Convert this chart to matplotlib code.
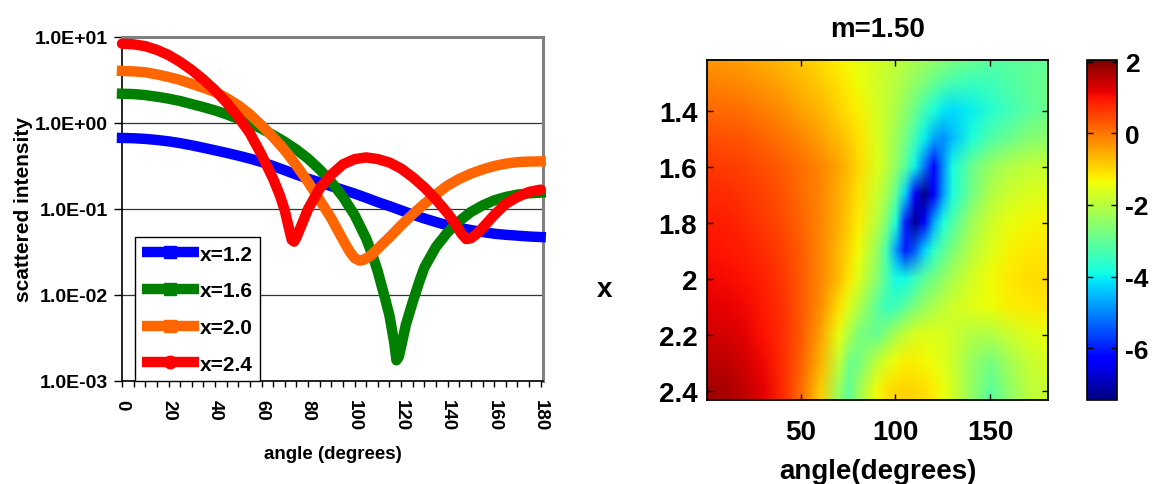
import numpy as np
import matplotlib
matplotlib.use('Agg')
import matplotlib.pyplot as plt
from matplotlib.lines import Line2D
from matplotlib.image import NonUniformImage

plt.rcParams['font.family'] = ['Liberation Sans', 'DejaVu Sans']
plt.rcParams['font.weight'] = 'bold'
plt.rcParams['axes.unicode_minus'] = False

# ---- left panel: scattered intensity vs angle ----
ang_12 = [0, 5, 10, 15, 20, 25, 30, 35, 40, 45, 50, 55, 60, 65, 70, 75, 80, 85, 90, 95,
          100, 105, 110, 115, 120, 125, 130, 135, 140, 145, 150, 155, 160, 165, 170, 175, 180]
int_12 = [0.670, 0.665, 0.653, 0.635, 0.612, 0.583, 0.550, 0.515, 0.481, 0.449, 0.417,
          0.385, 0.352, 0.316, 0.282, 0.251, 0.225, 0.204, 0.184, 0.167, 0.151, 0.135,
          0.120, 0.108, 0.0964, 0.0861, 0.0776, 0.0705, 0.0646, 0.0603, 0.0569, 0.0540,
          0.0516, 0.0501, 0.0490, 0.0479, 0.0472]

ang_16 = [0, 5, 10, 15, 20, 25, 30, 35, 40, 45, 50, 55, 60, 65, 70, 75, 80, 85, 90, 95,
          100, 105, 108, 110, 113, 115, 117, 118, 119, 120, 122, 125, 128, 130, 135, 140,
          145, 150, 155, 160, 165, 170, 175, 180]
int_16 = [2.19, 2.17, 2.11, 2.02, 1.92, 1.80, 1.66, 1.53, 1.40, 1.26, 1.12, 0.989, 0.859,
          0.724, 0.603, 0.490, 0.385, 0.288, 0.206, 0.138, 0.0851, 0.0452, 0.0275, 0.0186,
          0.00933, 0.00575, 0.00282, 0.00174, 0.00191, 0.00251, 0.00447, 0.00832, 0.0148,
          0.0209, 0.0363, 0.0537, 0.0724, 0.0923, 0.110, 0.126, 0.138, 0.147, 0.152, 0.155]

ang_20 = [0, 5, 10, 15, 20, 25, 30, 35, 40, 45, 50, 55, 60, 65, 70, 75, 80, 85, 90, 95,
          98, 100, 102, 104, 107, 110, 115, 120, 125, 130, 135, 140, 145, 150, 155, 160,
          165, 170, 175, 180]
int_20 = [4.03, 3.98, 3.89, 3.67, 3.43, 3.16, 2.85, 2.57, 2.29, 1.95, 1.60, 1.26, 0.940,
          0.684, 0.481, 0.320, 0.206, 0.127, 0.0776, 0.0437, 0.0316, 0.0269, 0.0251,
          0.0257, 0.0288, 0.0347, 0.0468, 0.0646, 0.0871, 0.115, 0.148, 0.188, 0.224,
          0.258, 0.288, 0.316, 0.337, 0.351, 0.356, 0.358]

ang_24 = [0, 5, 10, 15, 20, 25, 30, 35, 40, 45, 50, 55, 60, 65, 68, 70, 72, 73, 74, 75,
          77, 80, 85, 90, 95, 100, 105, 110, 115, 120, 125, 130, 135, 140, 143, 146, 148,
          150, 152, 155, 160, 165, 170, 175, 180]
int_24 = [8.36, 8.22, 7.82, 7.08, 6.17, 5.13, 4.12, 3.20, 2.40, 1.72, 1.175, 0.759, 0.427,
          0.224, 0.141, 0.0955, 0.0562, 0.0437, 0.0417, 0.0468, 0.0631, 0.100, 0.174,
          0.251, 0.331, 0.380, 0.398, 0.380, 0.347, 0.295, 0.234, 0.178, 0.129, 0.0891,
          0.0692, 0.0513, 0.0447, 0.0457, 0.0501, 0.0603, 0.0851, 0.115, 0.138, 0.158, 0.168]

series = [('x=1.2', ang_12, int_12, '#0000FF', 's'),
          ('x=1.6', ang_16, int_16, '#008000', 's'),
          ('x=2.0', ang_20, int_20, '#FF6600', 's'),
          ('x=2.4', ang_24, int_24, '#FF0000', 'o')]

y_ticks = [1e-3, 1e-2, 1e-1, 1e0, 1e1]
y_ticklabels = ['1.0E-03', '1.0E-02', '1.0E-01', '1.0E+00', '1.0E+01']

# ---- right panel: ln(intensity) map, angle vs size parameter x ----
hm_angle = [0, 10, 20, 30, 40, 50, 60, 70, 75, 80, 90, 95, 100, 105, 110, 115, 120, 125,
            130, 140, 150, 160, 170, 180]
hm_x = [1.2, 1.3, 1.4, 1.5, 1.6, 1.7, 1.8, 1.9, 2.0, 2.1, 2.2, 2.3, 2.4]
hm_ln = [
    [-0.40, -0.43, -0.49, -0.60, -0.73, -0.88, -1.04, -1.27, -1.38, -1.49, -1.69, -1.79, -1.89, -2.00, -2.12, -2.23, -2.34, -2.45, -2.56, -2.80, -3.00, -3.05, -3.05, -3.05],
    [-0.12, -0.15, -0.23, -0.35, -0.50, -0.66, -0.85, -1.10, -1.23, -1.37, -1.70, -1.85, -2.02, -2.22, -2.45, -2.70, -2.95, -3.15, -3.30, -3.45, -3.40, -3.20, -3.00, -2.90],
    [0.15, 0.12, 0.05, -0.07, -0.24, -0.44, -0.65, -0.92, -1.07, -1.24, -1.68, -1.92, -2.18, -2.50, -2.90, -3.40, -3.80, -4.10, -4.20, -4.00, -3.70, -3.40, -3.10, -2.90],
    [0.40, 0.38, 0.31, 0.19, 0.03, -0.17, -0.40, -0.70, -0.88, -1.08, -1.62, -1.95, -2.30, -2.80, -3.40, -4.00, -4.70, -4.90, -4.50, -3.80, -3.20, -2.90, -2.60, -2.50],
    [0.62, 0.60, 0.52, 0.40, 0.25, 0.05, -0.15, -0.51, -0.72, -0.96, -1.58, -1.98, -2.46, -3.10, -3.98, -5.16, -6.22, -4.90, -3.82, -2.92, -2.38, -2.07, -1.92, -1.87],
    [0.78, 0.75, 0.66, 0.52, 0.35, 0.12, -0.15, -0.55, -0.80, -1.08, -1.80, -2.25, -3.00, -4.30, -6.40, -7.40, -6.30, -4.80, -3.80, -2.80, -2.10, -1.75, -1.60, -1.55],
    [0.90, 0.87, 0.78, 0.63, 0.45, 0.18, -0.15, -0.60, -0.88, -1.20, -2.02, -2.70, -3.80, -6.00, -7.30, -6.20, -4.70, -3.80, -3.20, -2.30, -1.75, -1.45, -1.32, -1.27],
    [1.00, 0.97, 0.88, 0.73, 0.54, 0.25, -0.15, -0.66, -0.98, -1.36, -2.40, -3.30, -4.80, -6.00, -5.40, -4.30, -3.60, -3.10, -2.70, -2.00, -1.55, -1.28, -1.15, -1.12],
    [1.10, 1.07, 0.98, 0.83, 0.63, 0.30, -0.15, -0.73, -1.13, -1.58, -2.56, -3.25, -3.90, -3.90, -3.45, -3.05, -2.74, -2.45, -2.16, -1.67, -1.36, -1.15, -1.04, -1.03],
    [1.22, 1.19, 1.09, 0.92, 0.68, 0.30, -0.25, -1.05, -1.55, -2.05, -3.05, -3.45, -3.40, -3.05, -2.70, -2.40, -2.15, -1.93, -1.76, -1.52, -1.40, -1.25, -1.15, -1.13],
    [1.35, 1.32, 1.20, 1.00, 0.72, 0.27, -0.42, -1.45, -2.10, -2.70, -2.95, -2.55, -2.15, -1.85, -1.65, -1.55, -1.55, -1.62, -1.75, -2.05, -2.10, -1.80, -1.55, -1.45],
    [1.55, 1.50, 1.36, 1.10, 0.74, 0.20, -0.62, -1.90, -2.80, -2.80, -1.90, -1.55, -1.35, -1.25, -1.25, -1.32, -1.42, -1.58, -1.80, -2.40, -2.75, -2.25, -1.85, -1.65],
    [1.75, 1.70, 1.52, 1.20, 0.76, 0.10, -0.87, -2.37, -3.05, -2.34, -1.36, -1.09, -0.96, -0.92, -0.96, -1.05, -1.20, -1.43, -1.71, -2.43, -3.08, -2.46, -1.98, -1.78],
]
cbar_ticks = [-6, -4, -2, 0, 2]

W, H = 1152, 485
fig = plt.figure(figsize=(W / 100, H / 100), dpi=100)

# ================= left: Excel style log plot =================
ax1 = fig.add_axes([122 / W, (H - 382) / H, 421 / W, 344 / H])
for lab, a, v, col, mk in series:
    cap = 'round' if mk == 'o' else 'projecting'
    ax1.plot(a, v, color=col, lw=7.5, solid_capstyle=cap, solid_joinstyle='round',
             clip_on=False, zorder=3)
ax1.set_yscale('log')
ax1.set_ylim(1e-3, 1e1)
ax1.set_xlim(0, 181)
ax1.set_yticks(y_ticks)
ax1.set_yticklabels(y_ticklabels)
ax1.minorticks_off()
ax1.set_xticks(np.arange(0, 181, 20))
ax1.set_xticks(np.arange(0, 181, 5), minor=True)
ax1.tick_params(axis='y', direction='out', length=6, width=1, labelsize=14, pad=4)
ax1.tick_params(axis='x', which='both', direction='out', length=4, width=1,
                labelsize=13.5, pad=9, labelrotation=-90)
ax1.grid(True, axis='y', color='#333333', lw=0.9)
for s in ['top', 'right']:
    ax1.spines[s].set_color('#808080')
    ax1.spines[s].set_linewidth(2.2)
for s in ['left', 'bottom']:
    ax1.spines[s].set_color('black')
    ax1.spines[s].set_linewidth(1.2)
ax1.set_ylabel('scattered intensity', fontsize=15, fontweight='bold', va='center')
ax1.yaxis.set_label_coords(-0.235, 0.5)
ax1.set_xlabel('angle (degrees)', fontsize=13.5, fontweight='bold', va='center')
ax1.xaxis.set_label_coords(0.5, -0.212)

handles = [Line2D([], [], color=col, lw=7.5, marker=mk, markersize=9,
                  solid_capstyle='butt') for lab, a, v, col, mk in series]
leg = ax1.legend(handles, [s[0] for s in series], loc='lower left',
                 bbox_to_anchor=(0.031, 0.0), borderaxespad=0, fancybox=False,
                 framealpha=1, edgecolor='black', handlelength=2.7,
                 handletextpad=0.05, labelspacing=0.85, borderpad=0.35,
                 prop={'size': 15, 'weight': 'bold'})
leg.get_frame().set_linewidth(1.0)
leg.set_zorder(5)

# ================= right: MATLAB style map =================
ax2 = fig.add_axes([707 / W, (H - 401) / H, 341 / W, 340 / H])
ax2.set_xlim(0.5, 180.5)
ax2.set_ylim(2.433, 1.219)
im = NonUniformImage(ax2, interpolation='bilinear', cmap='jet',
                     extent=(0.5, 180.5, 2.433, 1.219))
im.set_data(np.array(hm_angle, float), np.array(hm_x, float), np.array(hm_ln))
im.set_clim(-7.45, 2.05)
ax2.add_image(im)
ax2.set_xlim(0.5, 180.5)
ax2.set_ylim(2.433, 1.219)
ax2.set_xticks([50, 100, 150])
ax2.set_yticks([1.4, 1.6, 1.8, 2.0, 2.2, 2.4])
ax2.set_yticklabels(['1.4', '1.6', '1.8', '2', '2.2', '2.4'])
ax2.tick_params(direction='in', top=True, right=True, length=4, width=1,
                labelsize=20)
ax2.tick_params(axis='x', pad=14)
ax2.tick_params(axis='y', pad=7)
for s in ax2.spines.values():
    s.set_linewidth(1.3)
ax2.set_title('m=1.50', fontsize=20, fontweight='bold', pad=17)
ax2.set_xlabel('angle(degrees)', fontsize=20, fontweight='bold')
ax2.xaxis.set_label_coords(0.5, -0.17)
ax2.set_ylabel('x', fontsize=20, fontweight='bold', rotation=0, ha='center', va='center')
ax2.yaxis.set_label_coords(-0.302, 0.326)

cax = fig.add_axes([1087 / W, (H - 401) / H, 30 / W, 340 / H])
cb = fig.colorbar(im, cax=cax, ticks=cbar_ticks)
cb.outline.set_linewidth(1.2)
cax.tick_params(direction='in', left=True, right=True, length=4, width=1,
                labelsize=19, pad=6)

fig.savefig('out.png', dpi=100)
